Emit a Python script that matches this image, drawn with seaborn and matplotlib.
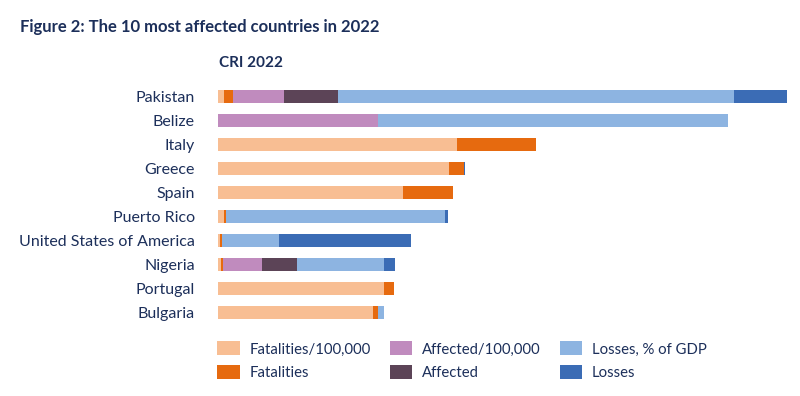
import numpy as np
import matplotlib
matplotlib.use("Agg")
import matplotlib.pyplot as plt
from matplotlib.patches import Patch
import seaborn as sns
import pandas as pd

COUNTRIES = ["Pakistan", "Belize", "Italy", "Greece", "Spain", "Puerto Rico",
             "United States of America", "Nigeria", "Portugal", "Bulgaria"]

SERIES = ["Fatalities/100,000", "Fatalities", "Affected/100,000",
          "Affected", "Losses, % of GDP", "Losses"]

# segment lengths per country
FATAL_100K = [6.0, 0.0, 238.7, 230.7, 184.4, 5.7, 1.7, 2.7, 165.7, 154.7]
FATAL = [8.7, 0.0, 79.3, 14.7, 50.3, 1.7, 2.3, 2.0, 10.0, 5.0]
AFFECTED_100K = [51.0, 159.4, 0.0, 0.0, 0.0, 0.0, 0.0, 38.7, 0.0, 0.0]
AFFECTED = [54.0, 0.0, 0.0, 0.0, 0.0, 0.0, 0.0, 35.0, 0.0, 0.0]
LOSSES_GDP = [396.0, 350.0, 0.0, 0.0, 0.0, 219.3, 56.7, 87.3, 0.0, 6.0]
LOSSES = [52.5, 0.0, 0.0, 1.3, 0.0, 2.7, 131.7, 11.3, 0.0, 0.0]

COLORS = ["#f8be93", "#e66a0f", "#c08bbe", "#5c4457", "#8db4e1", "#3b6cb5"]

TEXT = "#1c2f5a"

sns.set_style("white")
plt.rcParams['font.family'] = ['Lato', 'DejaVu Sans']

df = pd.DataFrame({
    'country': COUNTRIES,
    SERIES[0]: FATAL_100K,
    SERIES[1]: FATAL,
    SERIES[2]: AFFECTED_100K,
    SERIES[3]: AFFECTED,
    SERIES[4]: LOSSES_GDP,
    SERIES[5]: LOSSES,
})
cum = df[SERIES].cumsum(axis=1)

fig = plt.figure(figsize=(8, 3.96), dpi=100)
ax = fig.add_axes([218.3 / 800, 1 - 324.5 / 396, 568.4 / 800, 240 / 396])

# stacked bars: draw the running totals from the longest down
for name, color in reversed(list(zip(SERIES, COLORS))):
    sns.barplot(x=cum[name], y=df['country'], orient='h', order=COUNTRIES,
                color=color, saturation=1, width=0.53, linewidth=0, ax=ax)

ax.set_xlim(0, cum[SERIES[-1]].max())
ax.set_ylim(9.5, -0.5)
sns.despine(ax=ax, left=True, bottom=True)
ax.set_xticks([])
ax.set_xlabel("")
ax.set_ylabel("")
ax.tick_params(axis='y', length=0, pad=17, labelsize=11.5, labelcolor=TEXT)

fig.text(20 / 800, 1 - 27 / 396, "Figure 2: The 10 most affected countries in 2022",
         fontsize=12, fontweight='bold', color=TEXT, va='center', ha='left')
fig.text(219 / 800, 1 - 63 / 396, "CRI 2022",
         fontsize=11, fontweight='bold', color=TEXT, va='center', ha='left')

handles = [Patch(facecolor=c, edgecolor='none', label=s)
           for s, c in zip(SERIES, COLORS)]
leg = fig.legend(handles=handles, ncol=3, loc='upper left',
                 bbox_to_anchor=(213 / 800, 1 - 337 / 396), frameon=False,
                 fontsize=10.7, handlelength=1.5, handleheight=1.05,
                 handletextpad=0.65, columnspacing=1.3, labelspacing=0.6,
                 borderaxespad=0, borderpad=0.3)
for t in leg.get_texts():
    t.set_color(TEXT)

fig.savefig("out.png", dpi=100)
plt.close()
